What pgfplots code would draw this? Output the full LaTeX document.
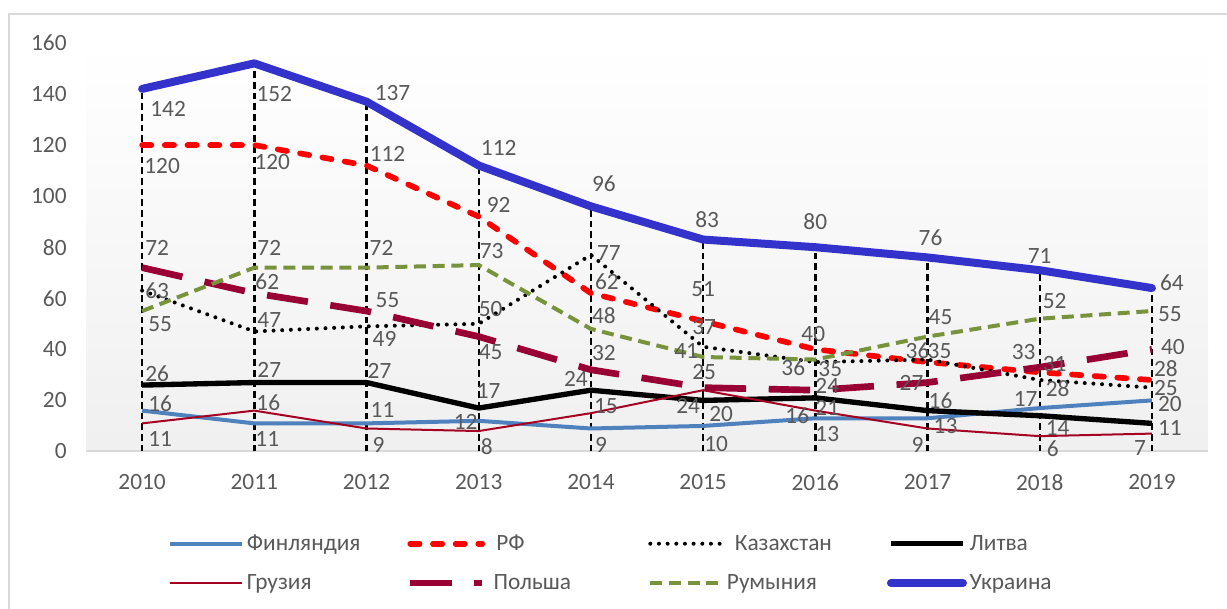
\documentclass[border=0pt]{standalone}
\usepackage{pgfplots}
\pgfplotsset{compat=1.18}
\usepackage{pgfplotstable}
\usepackage{fontspec}
\setmainfont{Carlito}
\definecolor{cFin}{RGB}{79,129,189}
\definecolor{cRF}{RGB}{255,0,0}
\definecolor{cGeo}{RGB}{165,0,33}
\definecolor{cPol}{RGB}{153,0,51}
\definecolor{cRom}{RGB}{119,147,60}
\definecolor{cUkr}{RGB}{51,51,204}
\definecolor{labelgray}{RGB}{89,89,89}
\definecolor{axisg}{RGB}{217,217,217}
\definecolor{frameg}{RGB}{217,217,217}

% x y dx dy (label offset in px; dy upward)
\pgfplotstableread{
x y dx dy
0 142 26 -20
1 152 20 -31
2 137 26 9
3 112 20 18
4 96 13 23
5 83 4 20
6 80 0 26
7 76 3 20
8 71 0 14
9 64 20 5
}\tUkr
\pgfplotstableread{
x y dx dy
0 120 20 -21
1 120 18 -17
2 112 21 12
3 92 20 12
4 62 16 11
5 51 0 32
6 40 -2 15
7 35 12 11
8 31 15 8
9 28 14 11
}\tRF
\pgfplotstableread{
x y dx dy
0 63 15 0
1 47 15 11
2 49 18 -13
3 50 12 15
4 77 18 2
5 41 -17 -4
6 35 15 -7
7 36 -10 9
8 28 18 -9
9 25 14 0
}\tKaz
\pgfplotstableread{
x y dx dy
0 55 18 -13
1 72 15 20
2 72 15 20
3 73 13 14
4 48 13 13
5 37 1 30
6 36 -22 -8
7 45 13 19
8 52 15 18
9 55 18 -3
}\tRom
\pgfplotstableread{
x y dx dy
0 72 15 20
1 62 13 11
2 55 21 11
3 45 12 -16
4 32 13 17
5 25 1 16
6 24 12 4
7 27 -16 0
8 33 -16 15
9 40 21 2
}\tPol
\pgfplotstableread{
x y dx dy
0 26 15 11
1 27 15 13
2 27 13 12
3 17 10 17
4 24 -15 11
5 20 18 -14
6 21 12 -10
7 16 13 10
8 14 18 -12
9 11 18 -5
}\tLit
\pgfplotstableread{
x y dx dy
0 16 18 7
1 11 13 -16
2 11 16 13
3 12 -13 -1
4 9 10 -16
5 10 13 -18
6 13 12 -16
7 13 18 -8
8 17 -14 9
9 20 18 -4
}\tFin
\pgfplotstableread{
x y dx dy
0 11 18 -16
1 16 14 8
2 9 12 -16
3 8 8 -16
4 15 15 7
5 24 -15 -16
6 16 -18 -5
7 9 -10 -16
8 6 13 -13
9 7 -12 -14
}\tGeo

\newcommand{\fs}{\fontsize{17.5}{20}\selectfont}
\pgfplotsset{lbl/.style={forget plot, draw=none, nodes near coords,
    visualization depends on={\thisrow{dx}\as\lx},
    visualization depends on={\thisrow{dy}\as\ly},
    every node near coord/.append style={anchor=center, xshift=\lx*0.75pt, yshift=\ly*0.75pt, font=\fs, text=labelgray}}}

\begin{document}
\begin{tikzpicture}
\useasboundingbox (0,0) rectangle (920.25pt,456pt);
\draw[color=frameg, line width=1.5pt] (6.75pt,-5pt) -- (6.75pt,445.5pt) -- (930pt,445.5pt);
\begin{axis}[
  at={(64.5pt,117.4pt)}, anchor=south west,
  scale only axis, width=841.5pt, height=306.4pt,
  xmin=-0.5, xmax=9.5, ymin=0, ymax=160,
  xtick={0,...,9}, xticklabels={2010,2011,2012,2013,2014,2015,2016,2017,2018,2019},
  ytick={0,20,...,160},
  axis lines*=left,
  y axis line style={draw=none},
  x axis line style={draw=axisg, line width=1.5pt},
  major tick length=0pt,
  /pgf/number format/assume math mode=true,
  ticklabel style={font=\fs, text=labelgray},
  yticklabel style={xshift=-11pt},
  xticklabel style={yshift=-14pt},
  axis background/.style={shade, top color=white, bottom color=black!6},
  clip=false,
  legend columns=4,
  legend style={at={(0.0731,-0.2735)}, anchor=west, draw=none, fill=none,
    inner sep=0pt, font=\fs, text=labelgray, row sep=12.5pt,
    /tikz/every even column/.append style={column sep=0pt}},
  legend image code/.code={\draw[#1] (0pt,0pt) -- (54pt,0pt);},
]
\addplot[forget plot, ycomb, black, line width=1.8pt, dash pattern=on 5pt off 3pt] table[x=x,y=y]{\tUkr};
\addplot[cFin, line width=3pt, line join=round] table[x=x,y=y]{\tFin};
\addlegendentry{\makebox[118pt][l]{Финляндия}}
\addplot[cRF, line width=4.25pt, line cap=round, dash pattern=on 7pt off 10pt] table[x=x,y=y]{\tRF};
\addlegendentry{\makebox[118pt][l]{\hspace{6pt}РФ}}
\addplot[black, line width=3pt, line cap=round, dash pattern=on 0pt off 6.5pt] table[x=x,y=y]{\tKaz};
\addlegendentry{\makebox[118pt][l]{\hspace{6pt}Казахстан}}
\addplot[black, line width=4pt, line join=round] table[x=x,y=y]{\tLit};
\addlegendentry{\makebox[118pt][l]{Литва}}
\addplot[cGeo, line width=1.5pt, line join=round] table[x=x,y=y]{\tGeo};
\addlegendentry{\makebox[118pt][l]{Грузия}}
\addplot[cPol, line width=5pt, dash pattern=on 31pt off 17pt] table[x=x,y=y]{\tPol};
\addlegendentry{\makebox[118pt][l]{\hspace{4pt}Польша}}
\addplot[cRom, line width=3pt, dash pattern=on 9pt off 5pt] table[x=x,y=y]{\tRom};
\addlegendentry{\makebox[118pt][l]{Румыния}}
\addplot[cUkr, line width=6pt, line join=round, line cap=round] table[x=x,y=y]{\tUkr};
\addlegendentry{\makebox[118pt][l]{Украина}}
\addplot[lbl] table[x=x,y=y]{\tFin};
\addplot[lbl] table[x=x,y=y]{\tRF};
\addplot[lbl] table[x=x,y=y]{\tKaz};
\addplot[lbl] table[x=x,y=y]{\tLit};
\addplot[lbl] table[x=x,y=y]{\tGeo};
\addplot[lbl] table[x=x,y=y]{\tPol};
\addplot[lbl] table[x=x,y=y]{\tRom};
\addplot[lbl] table[x=x,y=y]{\tUkr};
\end{axis}
\end{tikzpicture}
\end{document}
